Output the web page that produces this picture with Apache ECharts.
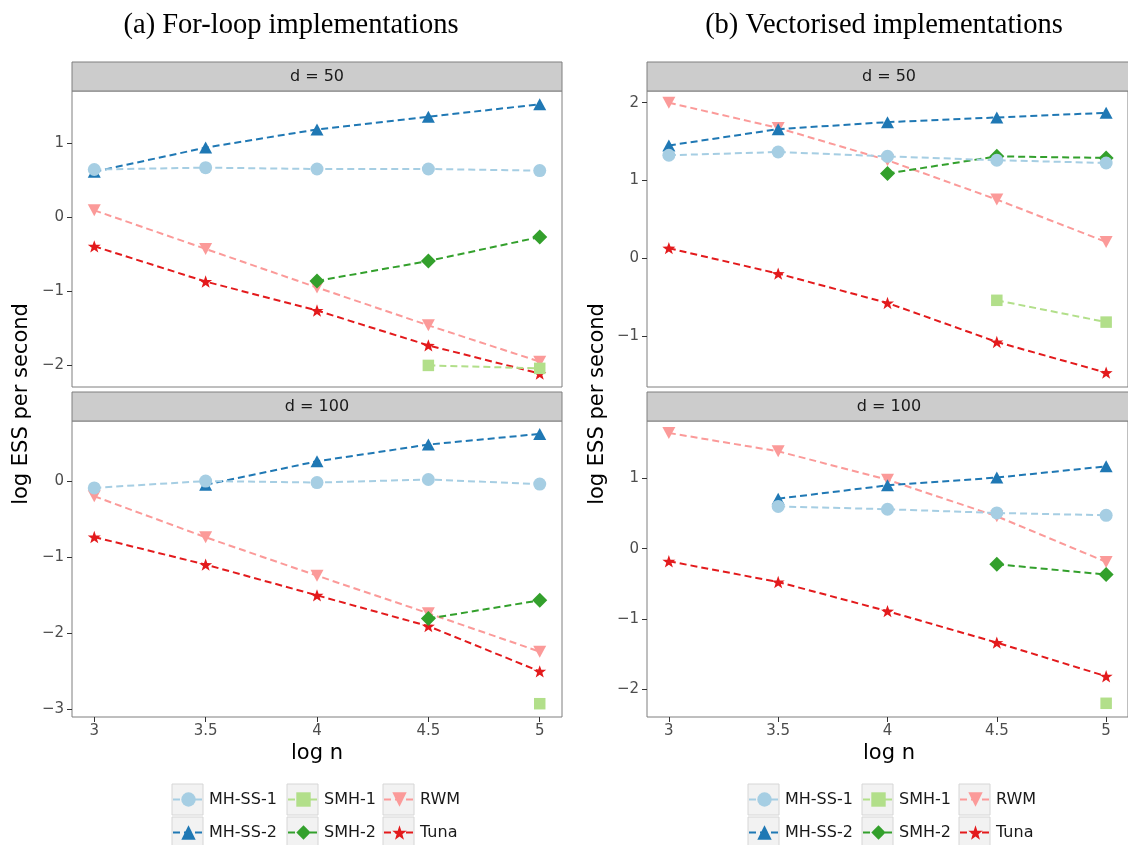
<!DOCTYPE html>
<html><head><meta charset="utf-8">
<script src="https://cdn.jsdelivr.net/npm/echarts@6/dist/echarts.min.js"></script>
<style>html,body{margin:0;padding:0;background:#fff}#c{width:1128px;height:845px}</style>
</head><body><div id="c"></div>
<script>
// ---- data ----
const logN = [3, 3.5, 4, 4.5, 5];
const seriesNames = ['MH-SS-1', 'MH-SS-2', 'SMH-1', 'SMH-2', 'RWM', 'Tuna'];
const panelTitles = ['(a) For-loop implementations', '(b) Vectorised implementations'];
const facetLabels = ['d = 50', 'd = 100'];

// (a) For-loop, d = 50
const loop50_MHSS1 = [0.64, 0.665, 0.647, 0.647, 0.625];
const loop50_MHSS2 = [0.61, 0.935, 1.18, 1.35, 1.52];
const loop50_SMH1  = [null, null, null, -2.0, -2.04];
const loop50_SMH2  = [null, null, -0.862, -0.593, -0.27];
const loop50_RWM   = [0.09, -0.43, -0.95, -1.46, -1.95];
const loop50_Tuna  = [-0.395, -0.87, -1.26, -1.73, -2.11];
// (a) For-loop, d = 100
const loop100_MHSS1 = [-0.09, 0.0, -0.02, 0.02, -0.04];
const loop100_MHSS2 = [null, -0.05, 0.26, 0.48, 0.62];
const loop100_SMH1  = [null, null, null, null, -2.93];
const loop100_SMH2  = [null, null, null, -1.81, -1.57];
const loop100_RWM   = [-0.2, -0.74, -1.245, -1.74, -2.245];
const loop100_Tuna  = [-0.737, -1.1, -1.504, -1.91, -2.504];
// (b) Vectorised, d = 50
const vec50_MHSS1 = [1.324, 1.366, 1.31, 1.26, 1.225];
const vec50_MHSS2 = [1.45, 1.66, 1.75, 1.81, 1.87];
const vec50_SMH1  = [null, null, null, -0.54, -0.82];
const vec50_SMH2  = [null, null, 1.09, 1.31, 1.29];
const vec50_RWM   = [2.0, 1.675, 1.26, 0.755, 0.21];
const vec50_Tuna  = [0.13, -0.197, -0.574, -1.075, -1.47];
// (b) Vectorised, d = 100
const vec100_MHSS1 = [null, 0.6, 0.56, 0.507, 0.474];
const vec100_MHSS2 = [null, 0.71, 0.9, 1.01, 1.17];
const vec100_SMH1  = [null, null, null, null, -2.2];
const vec100_SMH2  = [null, null, null, -0.223, -0.37];
const vec100_RWM   = [1.645, 1.384, 0.98, 0.46, -0.19];
const vec100_Tuna  = [-0.18, -0.475, -0.89, -1.337, -1.816];

const yTicks = [[-2, -1, 0, 1], [-3, -2, -1, 0], [-1, 0, 1, 2], [-2, -1, 0, 1]];
const xTicks = [3, 3.5, 4, 4.5, 5];

// ---- styling ----
const COLORS = {'MH-SS-1':'#A6CEE3','MH-SS-2':'#1F78B4','SMH-1':'#B2DF8A','SMH-2':'#33A02C','RWM':'#FB9A99','Tuna':'#E31A1C'};
const STAR = 'path://M0,-10L2.35,-3.24L9.51,-3.09L3.8,1.24L5.88,8.09L0,4.0L-5.88,8.09L-3.8,1.24L-9.51,-3.09L-2.35,-3.24Z';
const DIAM = 'path://M0,-1L1,0L0,1L-1,0Z';
const SYM = {'MH-SS-1':'circle','MH-SS-2':'triangle','SMH-1':'rect','SMH-2':DIAM,'RWM':'triangle','Tuna':STAR};
const SIZE = {'MH-SS-1':13,'MH-SS-2':[13,12],'SMH-1':11.5,'SMH-2':15,'RWM':[13,12],'Tuna':13};
const ROT = {'MH-SS-1':0,'MH-SS-2':0,'SMH-1':0,'SMH-2':0,'RWM':180,'Tuna':0};

const facets = [
  {'MH-SS-1':loop50_MHSS1,'MH-SS-2':loop50_MHSS2,'SMH-1':loop50_SMH1,'SMH-2':loop50_SMH2,'RWM':loop50_RWM,'Tuna':loop50_Tuna},
  {'MH-SS-1':loop100_MHSS1,'MH-SS-2':loop100_MHSS2,'SMH-1':loop100_SMH1,'SMH-2':loop100_SMH2,'RWM':loop100_RWM,'Tuna':loop100_Tuna},
  {'MH-SS-1':vec50_MHSS1,'MH-SS-2':vec50_MHSS2,'SMH-1':vec50_SMH1,'SMH-2':vec50_SMH2,'RWM':vec50_RWM,'Tuna':vec50_Tuna},
  {'MH-SS-1':vec100_MHSS1,'MH-SS-2':vec100_MHSS2,'SMH-1':vec100_SMH1,'SMH-2':vec100_SMH2,'RWM':vec100_RWM,'Tuna':vec100_Tuna}
];
const yRanges = [[-2.291, 1.698], [-3.105, 0.79], [-1.654, 2.15], [-2.395, 1.815]];

const GRIDS = [
  {left:72, top:91, width:490, height:296},
  {left:72, top:421, width:490, height:296},
  {left:647, top:91, width:484, height:296},
  {left:647, top:421, width:484, height:296}
];
const FONT = 'DejaVu Sans';
const minus = v => (v < 0 ? '\u2212' + Math.abs(v) : String(v));

const grid = GRIDS.map(g => Object.assign({show:true, borderColor:'#7f7f7f', borderWidth:1}, g));
const xAxis = GRIDS.map((g, i) => ({
  type:'value', gridIndex:i, min:2.9, max:5.1, position:'bottom',
  axisLine:{show:false, onZero:false}, splitLine:{show:false},
  axisTick:{show: i % 2 === 1, length:5, lineStyle:{color:'#333', width:1}, customValues:xTicks},
  axisLabel:{show: i % 2 === 1, customValues:xTicks, color:'#4d4d4d', fontSize:15, fontFamily:FONT, margin:7, formatter:v => String(v)}
}));
const yAxis = GRIDS.map((g, i) => ({
  type:'value', gridIndex:i, min:yRanges[i][0], max:yRanges[i][1], position:'left',
  axisLine:{show:false, onZero:false}, splitLine:{show:false},
  axisTick:{show:true, length:5, lineStyle:{color:'#333', width:1}, customValues:yTicks[i]},
  axisLabel:{customValues:yTicks[i], color:'#4d4d4d', fontSize:15, fontFamily:FONT, margin:8, formatter:minus}
}));

const drawOrder = ['Tuna', 'RWM', 'SMH-2', 'SMH-1', 'MH-SS-2', 'MH-SS-1'];
const series = [];
facets.forEach((f, gi) => {
  drawOrder.forEach(name => {
    const vals = f[name];
    const data = logN.map((x, k) => vals[k] == null ? null : [x, vals[k]]).filter(d => d);
    series.push({
      type:'line', name, xAxisIndex:gi, yAxisIndex:gi, data,
      symbol:SYM[name], symbolSize:SIZE[name], symbolRotate:ROT[name], symbolKeepAspect:true,
      showSymbol:true, silent:true, animation:false,
      lineStyle:{color:COLORS[name], width:2, type:[7,4]},
      itemStyle:{color:COLORS[name], opacity:1}
    });
  });
});

// legends: 3 columns x 2 rows per panel
const legendCols = [['MH-SS-1','MH-SS-2'],['SMH-1','SMH-2'],['RWM','Tuna']];
const legendLefts = [[172, 287, 383], [748, 862, 959]];
const legend = [];
const graphic = [];
legendLefts.forEach(lefts => {
  lefts.forEach((lx, c) => {
    legend.push({
      data:legendCols[c], orient:'vertical', left:lx, top:790.5, itemWidth:31, itemHeight:18, itemGap:15,
      selectedMode:false, z:5, padding:0,
      textStyle:{fontFamily:FONT, fontSize:16, color:'#1a1a1a', lineHeight:18}
    });
    [784, 817].forEach(by => graphic.push({type:'rect', z:1, shape:{x:lx, y:by, width:31, height:31},
      style:{fill:'#F2F2F2', stroke:'#D6D6D6', lineWidth:1}}));
  });
});

// facet strips
GRIDS.forEach((g, i) => {
  graphic.push({type:'rect', z:1, shape:{x:g.left, y:g.top - 29, width:g.width, height:29},
    style:{fill:'#CCCCCC', stroke:'#7f7f7f', lineWidth:1}});
  graphic.push({type:'text', z:2, x:g.left + g.width / 2, y:g.top - 14.5,
    style:{text:facetLabels[i % 2], fontFamily:FONT, fontSize:16, fill:'#1a1a1a', textAlign:'center', textVerticalAlign:'middle'}});
});
// panel titles, axis titles
[[291, 0], [884, 1]].forEach(([cx, p]) => {
  graphic.push({type:'text', x:cx, y:26, style:{text:panelTitles[p], fontFamily:'Liberation Serif', fontSize:28.5, fill:'#000', textAlign:'center', textVerticalAlign:'middle'}});
});
[[22, 404], [598, 404]].forEach(([cx, cy]) => {
  graphic.push({type:'text', x:cx, y:cy, rotation:Math.PI / 2, style:{text:'log ESS per second', fontFamily:FONT, fontSize:21, fill:'#000', textAlign:'center', textVerticalAlign:'middle'}});
});
[317, 889].forEach(cx => {
  graphic.push({type:'text', x:cx, y:754, style:{text:'log n', fontFamily:FONT, fontSize:21, fill:'#000', textAlign:'center', textVerticalAlign:'middle'}});
});

const chart = echarts.init(document.getElementById('c'), null, {renderer:'canvas'});
chart.setOption({animation:false, backgroundColor:'#fff', grid, xAxis, yAxis, series, legend, graphic});
</script></body></html>
